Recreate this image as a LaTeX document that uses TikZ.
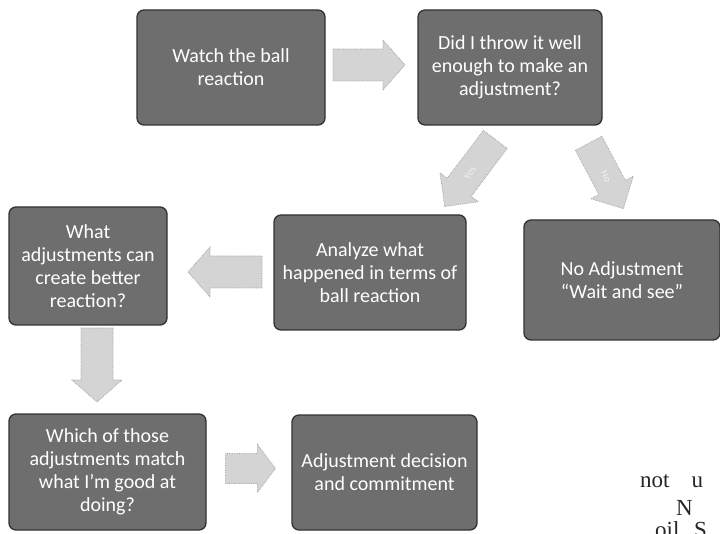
\documentclass[tikz,border=0pt]{standalone}
\usepackage{fontspec}
\setmainfont{Carlito}
\newfontfamily\pageserif{Liberation Serif}
\tikzset{
  box/.style={rectangle, rounded corners=7pt, fill=black!57, draw=black!80, line width=1.3pt,
    text=white, align=center, font=\fontsize{20}{23}\selectfont, inner sep=1pt},
  blockarrow/.style={fill=black!17, draw=black!38, densely dotted, line width=0.7pt},
  faint/.style={text=black!5, font=\fontsize{10}{12}\selectfont},
  pagetext/.style={anchor=base west, inner sep=0pt, font=\pageserif\fontsize{23}{28}\selectfont, text=black!85}
}
% #1 name, #2 x, #3 y, #4 angle, #5 length, #6 shaft half width, #7 head half width, #8 head length
\newcommand{\blkarrow}[8]{%
  \coordinate (#1) at (#2,#3);
  \begin{scope}[shift={(#1)}, rotate=#4]
    \draw[blockarrow] (-#5/2,-#6) -- (#5/2-#8,-#6) -- (#5/2-#8,-#7) -- (#5/2,0)
      -- (#5/2-#8,#7) -- (#5/2-#8,#6) -- (-#5/2,#6) -- cycle;
  \end{scope}}
\begin{document}
\begin{tikzpicture}[x=1pt,y=-1pt]
\useasboundingbox (0,0) rectangle (720,534);
\fill[white] (0,0) rectangle (720,534);

\node[box, minimum width=188pt, minimum height=115pt] (watch) at (231,67.5) {Watch the ball\\reaction};
\node[box, minimum width=184pt, minimum height=115pt] (did) at (510,67.5) {Did I throw it well\\enough to make an\\adjustment?};
\node[box, minimum width=158pt, minimum height=118pt] (what) at (88,266) {What\\adjustments can\\create better\\reaction?};
\node[box, minimum width=192pt, minimum height=115pt] (analyze) at (370,272.5) {Analyze what\\happened in terms of\\ball reaction};
\node[box, minimum width=196pt, minimum height=120pt] (noadj) at (622,280) {No Adjustment\\``Wait and see''};
\node[box, minimum width=197pt, minimum height=116pt] (which) at (107.5,472) {Which of those\\adjustments match\\what I'm good at\\doing?};
\node[box, minimum width=185pt, minimum height=115pt] (decide) at (384.5,472.5) {Adjustment decision\\and commitment};

\blkarrow{a1}{369}{65}{0}{72}{16}{25}{22}
\blkarrow{a2}{470}{173}{-127}{84}{15}{24}{24}
\blkarrow{a3}{606}{176}{-62}{74}{15}{24}{24}
\blkarrow{a4}{225}{272}{180}{74}{16}{25}{22}
\blkarrow{a5}{97}{365}{-90}{74}{16}{25}{22}
\blkarrow{a6}{250.5}{468.5}{0}{50}{15}{24}{18}

\node[faint, rotate=53] (yes) at (a2) {Yes};
\node[faint, rotate=-62] (no) at (a3) {No};

\node[pagetext] (t1) at (640,487) {not\hspace{22pt}u};
\node[pagetext] (t2) at (676,515) {N};
\node[pagetext] (t3) at (655,537) {oil.\hspace{9pt}S};
\end{tikzpicture}
\end{document}
